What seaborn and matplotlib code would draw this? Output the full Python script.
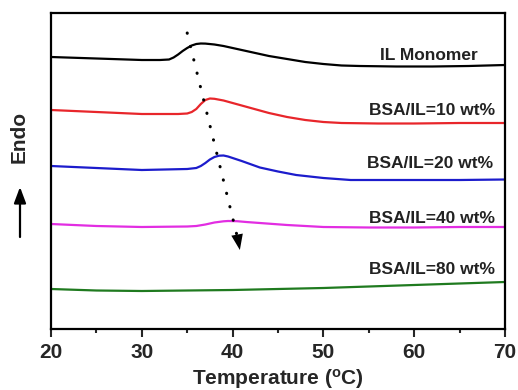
import numpy as np
import pandas as pd
import matplotlib.pyplot as plt
import seaborn as sns

# ----- DSC traces (heat flow in arbitrary units, already offset) -----
temp_monomer = [20, 25, 30, 32, 33, 33.5, 34, 34.5, 35, 35.5, 36, 36.5, 37, 38, 39, 40, 42, 44, 46, 48,
                50, 52, 54, 58, 62, 66, 70]
hf_monomer = [27.2, 27.05, 26.9, 26.9, 26.95, 27.15, 27.45, 27.8, 28.1, 28.35, 28.5, 28.55, 28.54, 28.45,
              28.3, 28.1, 27.7, 27.3, 27.0, 26.7, 26.5, 26.35, 26.3, 26.25, 26.25, 26.3, 26.4]

temp_10 = [20, 25, 30, 34, 35, 35.5, 36, 36.5, 37, 37.5, 38, 39, 40, 42, 44, 46, 48, 50, 52, 56, 60, 65, 70]
hf_10 = [21.9, 21.7, 21.5, 21.5, 21.55, 21.7, 22.0, 22.5, 22.9, 23.05, 23.02, 22.85, 22.6, 22.1, 21.6,
         21.2, 20.9, 20.7, 20.6, 20.55, 20.55, 20.6, 20.6]

temp_20 = [20, 25, 30, 35, 36, 36.5, 37, 37.5, 38, 38.5, 39, 39.5, 40, 41, 43, 45, 47, 50, 53, 60, 65, 70]
hf_20 = [16.3, 16.1, 15.9, 16.0, 16.1, 16.3, 16.6, 16.95, 17.2, 17.33, 17.35, 17.25, 17.1, 16.8, 16.15,
         15.75, 15.4, 15.1, 14.9, 14.9, 14.9, 14.95]

temp_40 = [20, 25, 30, 35, 36, 37, 38, 39, 39.5, 40.5, 41.5, 43, 46, 50, 55, 60, 65, 70]
hf_40 = [10.5, 10.3, 10.2, 10.25, 10.3, 10.45, 10.65, 10.77, 10.8, 10.78, 10.7, 10.6, 10.4, 10.2, 10.15,
         10.15, 10.2, 10.2]

temp_80 = [20, 25, 30, 35, 40, 45, 50, 55, 60, 65, 70]
hf_80 = [4.0, 3.85, 3.8, 3.85, 3.9, 4.0, 4.1, 4.25, 4.4, 4.55, 4.7]

labels = ["IL Monomer", "BSA/IL=10 wt%", "BSA/IL=20 wt%", "BSA/IL=40 wt%", "BSA/IL=80 wt%"]
colors = ["#000000", "#e8262b", "#1c1ccc", "#e22de2", "#1f7a1f"]
# label anchor (right edge temperature, heat flow)
label_x = [67.0, 68.9, 68.7, 68.9, 68.9]
label_y = [27.4, 21.9, 16.6, 11.1, 5.9]

# peak-shift guide arrow (temperature, heat flow)
shift_start = (35.0, 29.6)
shift_end = (40.8, 7.9)

curves = [(temp_monomer, hf_monomer), (temp_10, hf_10), (temp_20, hf_20),
          (temp_40, hf_40), (temp_80, hf_80)]
frames = []
for lab, (t, h) in zip(labels, curves):
    frames.append(pd.DataFrame({"temp": t, "hf": h, "sample": lab}))
df = pd.concat(frames, ignore_index=True)

sns.set_theme(style="ticks")
plt.rcParams['font.family'] = ['Liberation Sans', 'DejaVu Sans']
plt.rcParams['font.weight'] = 'bold'
plt.rcParams['mathtext.fontset'] = 'custom'
plt.rcParams['mathtext.bf'] = 'Liberation Sans:bold'
plt.rcParams['mathtext.rm'] = 'Liberation Sans:bold'
plt.rcParams['mathtext.default'] = 'bf'

fig = plt.figure(figsize=(5.18, 3.90), dpi=100)
ax = fig.add_axes([51 / 518, 61 / 390, 454 / 518, 316 / 390])

sns.lineplot(data=df, x="temp", y="hf", hue="sample", hue_order=labels,
             palette=colors, linewidth=1.6, legend=False, ax=ax, sort=False)

for lab, c, x, y in zip(labels, colors, label_x, label_y):
    ax.text(x, y, lab, ha="right", va="center", fontsize=12.5, fontweight="bold", color="#222222")

# dotted guide with filled head
ax.plot([shift_start[0], shift_end[0] - 0.25], [shift_start[1], shift_end[1] + 1.2],
        color="black", linestyle=(0, (0.1, 4.4)), linewidth=2.2, dash_capstyle="round")
ax.annotate("", xy=shift_end, xytext=(shift_end[0] - 0.3, shift_end[1] + 1.5),
            arrowprops=dict(arrowstyle="-|>,head_length=0.75,head_width=0.28",
                            color="black", lw=0, mutation_scale=15, shrinkA=0, shrinkB=0))

ax.set_xlim(20, 70)
ax.set_ylim(0, 31.6)
ax.set_xticks([20, 30, 40, 50, 60, 70])
ax.set_xticks([25, 35, 45, 55, 65], minor=True)
ax.set_yticks([])
ax.tick_params(axis="x", which="major", direction="out", length=6, width=1.5,
               labelsize=15, pad=4)
ax.tick_params(axis="x", which="minor", direction="out", length=3, width=1.5)
for lbl in ax.get_xticklabels():
    lbl.set_fontweight("bold")
for sp in ax.spines.values():
    sp.set_visible(True)
    sp.set_linewidth(1.6)
    sp.set_color("black")

ax.set_xlabel(r"Temperature ($^{o}$C)", fontsize=15, fontweight="bold", labelpad=4)
ax.set_ylabel("Endo", fontsize=15, fontweight="bold")
ax.yaxis.set_label_coords(-0.05, 0.607)

# upward arrow under the "Endo" label
ax.annotate("", xy=(20 / 518, 203 / 390), xytext=(20 / 518, 153 / 390),
            xycoords="figure fraction", textcoords="figure fraction",
            arrowprops=dict(arrowstyle="-|>,head_length=0.8,head_width=0.3",
                            color="black", lw=1.6, mutation_scale=12, shrinkA=0, shrinkB=0))

plt.savefig("out.png", dpi=100)
